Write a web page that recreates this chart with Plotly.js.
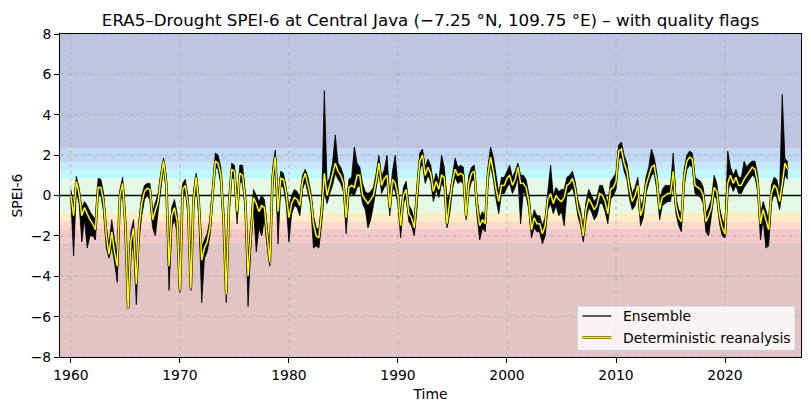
<!DOCTYPE html>
<html><head><meta charset="utf-8">
<script src="https://cdn.plot.ly/plotly-3.0.1.min.js"></script>
<style>html,body{margin:0;padding:0;background:#fff}#chart{width:811px;height:411px}</style>
</head><body><div id="chart"></div>
<script>
// Quarterly samples (Jan, Apr, Jul, Oct) from 1960 to 2025
const startYear = 1960;
const quarterMonths = ['01','04','07','10'];

// Deterministic reanalysis SPEI-6
const detValues = [
 0.0,-1.0,0.7,0.1,   -1.0,-0.6,-0.9,-1.2,  -1.4,-1.7,0.4,0.4,   -0.3,-2.0,-2.9,-1.8,
 -2.8,-3.5,0.0,0.6,  -1.5,-5.6,-2.3,-1.6,  -4.4,-1.6,-0.4,0.2,  0.35,0.3,-1.2,-0.8,
 -0.3,0.8,1.7,0.6,   -3.5,-1.0,-0.6,-1.3,  -4.7,0.3,0.5,-0.5,   -4.6,-0.2,0.9,-0.5,
 -3.2,-2.6,-2.3,-1.6, 0.0,1.7,1.6,1.0,     -1.1,-4.9,-0.5,1.3,  1.2,-0.8,1.1,1.0,
 -0.3,-4.0,-2.0,-0.1, -0.4,-0.8,-0.5,-0.6, -2.0,-3.3,0.9,1.9,   -0.8,0.85,0.8,0.1,
 -1.1,-0.4,-0.1,-0.2, -0.5,0.7,1.1,0.5,    -0.1,-1.4,-2.0,-2.1, -0.8,1.1,0.0,0.5,
 1.0,1.6,1.2,1.0,    0.6,-1.1,0.4,0.5,     0.4,1.0,1.0,0.0,     -0.2,-0.4,-0.2,0.0,
 0.7,1.6,0.5,0.85,   1.0,-0.6,0.8,0.6,     0.0,-1.5,0.0,0.3,    -0.9,-1.1,-1.6,-0.1,
 1.7,2.0,1.0,1.4,    1.1,0.2,0.7,0.3,      1.0,0.9,-1.4,-0.3,   0.7,1.3,1.0,1.1,
 1.0,-1.0,0.6,1.1,   1.2,-0.5,-1.5,-1.2,   -1.4,1.0,1.9,1.2,    0.3,-0.3,0.5,0.5,
 0.85,1.0,0.5,0.8,   1.4,0.6,0.6,0.4,      -0.3,-1.7,-1.1,-1.4, -1.4,-1.9,-1.5,-0.2,
 0.1,-0.4,0.0,-0.2,  -0.3,-0.1,0.5,0.6,    0.85,0.35,-0.6,-1.1, -2.0,-0.7,-0.15,-0.4,
 -0.7,-0.5,0.1,0.0,  -0.3,-0.9,0.3,0.4,    0.7,2.2,2.3,1.6,     1.2,0.3,-0.3,0.0,
 0.5,-1.0,-0.6,0.5,  1.0,1.4,1.5,0.7,      -0.7,-0.1,0.0,0.1,   0.1,1.2,-0.5,-1.1,
 -1.3,0.9,1.7,1.9,   1.8,0.5,0.4,0.3,      0.0,-1.3,-1.0,-0.6,  0.4,0.2,-1.0,-1.6,
 -1.9,0.6,1.0,0.6,   0.9,0.5,0.5,0.8,      1.0,1.2,1.4,1.3,     0.6,-1.4,-0.7,-1.2,
 -1.7,0.1,0.5,0.35,  -0.3,0.6,1.6,1.3
];

// Ensemble envelope: lowest member
const ensLow = [
 -0.3,-3.0,0.3,-0.4,  -2.3,-1.2,-2.6,-2.0, -2.0,-2.2,0.0,0.0,   -0.8,-2.6,-3.1,-2.5,
 -3.3,-4.3,-0.5,0.3,  -2.0,-5.6,-3.0,-2.2, -5.4,-2.2,-1.0,-0.2, 0.0,-0.2,-1.6,-2.0,
 -0.8,0.4,1.4,0.2,    -4.7,-1.6,-1.2,-1.9, -4.8,-0.1,0.2,-1.0,  -4.7,-0.6,0.5,-1.2,
 -5.3,-3.1,-2.8,-2.0, -0.4,1.4,1.3,0.6,    -1.6,-5.3,-1.0,0.9,  0.8,-1.4,0.7,0.6,
 -0.8,-5.5,-2.6,-0.6, -2.8,-1.6,-2.0,-1.2, -2.5,-3.5,0.4,1.5,   -2.4,0.5,0.4,-0.4,
 -2.3,-0.9,-0.5,-0.6, -1.0,0.3,0.7,0.1,    -0.5,-2.6,-2.5,-2.6, -1.4,0.2,-0.4,0.1,
 0.5,1.1,0.8,0.6,     0.2,-1.9,0.0,0.1,    0.0,0.4,0.5,-0.4,    -0.7,-1.6,-1.2,-0.5,
 0.3,1.2,0.1,0.4,     0.6,-1.0,0.4,0.2,    -0.4,-2.1,-0.4,-0.1, -1.3,-1.5,-2.0,-0.6,
 1.3,1.6,0.6,1.0,     0.7,-0.3,0.3,-0.1,   0.6,0.4,-1.6,-0.9,   0.3,0.9,0.6,0.7,
 0.6,-1.2,0.2,0.7,    0.8,-1.0,-2.2,-1.6,  -1.8,0.6,1.5,0.8,    -0.2,-0.9,0.1,0.1,
 0.4,0.6,0.1,0.4,     0.9,-1.4,0.2,0.0,    -0.7,-2.1,-1.6,-1.8, -1.8,-2.4,-2.0,-0.7,
 -0.4,-0.9,-0.5,-1.0, -0.8,-1.5,0.1,0.2,   0.4,-0.1,-1.0,-1.5,  -2.3,-1.2,-0.6,-0.8,
 -1.2,-1.0,-0.4,-0.4, -0.8,-1.4,-0.2,0.0,  0.3,1.8,1.9,1.2,     0.8,-0.2,-0.7,-0.5,
 0.1,-1.5,-1.1,0.1,   0.6,1.0,1.1,0.3,     -1.2,-0.5,-0.4,-0.3, -0.3,0.7,-0.9,-1.5,
 -1.8,0.5,1.3,1.5,    1.4,0.1,0.0,-0.1,    -0.4,-1.8,-2.0,-1.0, 0.0,-0.2,-1.4,-2.0,
 -2.1,0.2,0.6,0.2,    0.5,0.1,0.1,0.4,     0.6,0.8,1.0,0.9,     0.2,-2.2,-1.2,-2.6,
 -2.5,-0.4,0.1,-0.1,  -0.7,0.2,1.0,0.8
];

// Ensemble envelope: highest member
const ensHigh = [
 0.3,-0.6,0.95,0.4,   -0.6,-0.3,-0.5,-0.8, -1.0,-1.2,0.85,0.8,  0.1,-1.6,-2.5,-1.2,
 -2.2,-3.0,0.3,0.9,   -1.0,-5.0,-1.8,-1.2, -4.0,-1.2,0.0,0.5,   0.6,0.6,-0.8,-0.4,
 0.1,1.1,1.85,0.9,    -3.0,-0.6,-0.2,-0.9, -4.3,0.6,0.8,-0.1,   -4.2,0.2,1.1,-0.1,
 -2.6,-2.2,-1.9,-1.2, 0.4,2.1,2.0,1.4,     -0.7,-4.4,-0.2,1.6,  1.5,-0.4,1.5,1.5,
 0.1,-3.6,-1.5,0.3,   0.0,-0.3,0.0,-0.2,   -1.6,-2.9,1.3,2.25,  -0.3,1.2,1.1,0.4,
 -0.6,0.0,0.3,0.2,    -0.1,1.0,1.3,0.9,    0.2,-1.0,-1.6,-1.7,  -0.4,5.2,0.6,0.9,
 1.6,3.0,1.6,1.4,     1.0,-0.7,0.8,0.9,    2.4,1.6,1.4,0.6,     0.2,0.1,0.2,0.4,
 1.1,2.0,0.9,1.3,     2.0,-0.2,1.2,2.0,    0.4,-1.1,0.4,0.7,    -0.5,-0.7,-1.2,0.3,
 2.1,2.3,1.4,1.8,     1.5,0.6,1.1,0.7,     2.0,1.4,-0.2,0.1,    1.1,1.85,1.4,1.5,
 1.4,-0.6,1.0,1.4,    1.5,-0.1,-1.1,-0.8,  -1.0,1.4,2.4,1.9,    1.0,0.1,0.9,0.9,
 1.2,1.5,0.9,1.2,     1.6,1.0,1.0,0.8,     0.1,-1.3,-0.7,-1.0,  -1.0,-1.5,-1.1,0.2,
 1.5,0.0,0.4,0.2,     0.3,0.3,0.9,1.0,     1.2,0.7,-0.2,-0.7,   -1.6,-0.3,0.3,0.0,
 -0.3,-0.1,0.5,0.5,   0.1,-0.4,0.7,0.9,    1.1,2.5,2.65,2.0,    1.6,0.7,0.1,0.4,
 0.9,-0.6,-0.2,0.9,   1.4,2.3,1.9,1.1,     -0.3,0.3,0.5,0.5,    0.5,2.1,-0.1,-0.7,
 -0.9,1.3,2.0,2.2,    2.1,0.9,0.8,0.7,     0.4,-0.9,-0.6,-0.2,  1.0,0.6,-0.6,-1.2,
 -1.5,2.2,1.4,1.0,    1.3,0.9,0.9,1.7,     1.4,1.6,1.7,1.7,     1.0,-1.0,-0.3,-0.8,
 -1.2,0.5,0.9,0.8,    0.1,5.0,1.8,1.7
];

// SPEI category bands
const bandEdges = [-8, -2.33, -1.65, -1.28, -0.84, 0.84, 1.28, 1.65, 2.33, 8];
const bandColors = ['rgb(224,196,198)','rgb(245,200,201)','rgb(251,216,203)','rgb(253,238,198)',
                    'rgb(228,250,230)','rgb(191,250,255)','rgb(197,232,250)','rgb(192,216,244)','rgb(191,196,224)'];

const xTickYears = [1960, 1970, 1980, 1990, 2000, 2010, 2020];
const yTicks = [-8, -6, -4, -2, 0, 2, 4, 6, 8];
const seriesNames = ['Ensemble', 'Deterministic reanalysis'];

const dates = [];
for (let i = 0; i < detValues.length; i++) {
  const y = startYear + Math.floor(i / 4);
  dates.push(y + '-' + quarterMonths[i % 4] + '-01');
}

const FONT = 'DejaVu Sans, Verdana, sans-serif';
const shapes = [];
for (let i = 0; i < bandColors.length; i++) {
  shapes.push({type:'rect', xref:'paper', yref:'y', x0:0, x1:1, y0:bandEdges[i], y1:bandEdges[i+1],
    fillcolor:bandColors[i], line:{width:0}, layer:'below'});
}
xTickYears.forEach(yr => shapes.push({type:'line', xref:'x', yref:'paper', x0:yr+'-01-01', x1:yr+'-01-01', y0:0, y1:1,
  line:{color:'#b0b0b0', width:0.8, dash:'4px,3px'}, layer:'below'}));
yTicks.forEach(v => shapes.push({type:'line', xref:'paper', yref:'y', x0:0, x1:1, y0:v, y1:v,
  line:{color:'#b0b0b0', width:0.8, dash:'4px,3px'}, layer:'below'}));
shapes.push({type:'line', xref:'paper', yref:'y', x0:0, x1:1, y0:0, y1:0, line:{color:'black', width:1.5}, layer:'below'});

// manual legend (bottom right)
shapes.push({type:'rect', xref:'paper', yref:'paper', x0:0.698, x1:0.992, y0:0.02, y1:0.158,
  fillcolor:'rgba(255,255,255,0.8)', line:{color:'#cccccc', width:1}, layer:'above'});
shapes.push({type:'line', xref:'paper', yref:'paper', x0:0.705, x1:0.744, y0:0.127, y1:0.127,
  line:{color:'black', width:1.3}, layer:'above'});
shapes.push({type:'line', xref:'paper', yref:'paper', x0:0.705, x1:0.744, y0:0.060, y1:0.060,
  line:{color:'#555500', width:2.8}, layer:'above'});
shapes.push({type:'line', xref:'paper', yref:'paper', x0:0.705, x1:0.744, y0:0.060, y1:0.060,
  line:{color:'#ffff00', width:1.4}, layer:'above'});

const annotations = [
  {xref:'paper', yref:'paper', x:0.757, y:0.127, xanchor:'left', yanchor:'middle', showarrow:false,
   text:seriesNames[0], font:{family:FONT, size:13.9, color:'black'}},
  {xref:'paper', yref:'paper', x:0.757, y:0.060, xanchor:'left', yanchor:'middle', showarrow:false,
   text:seriesNames[1], font:{family:FONT, size:13.9, color:'black'}}
];

const traces = [
  {x:dates, y:ensLow, type:'scatter', mode:'lines', line:{color:'black', width:0.8}, showlegend:false, hoverinfo:'skip', name:'Ensemble low'},
  {x:dates, y:ensHigh, type:'scatter', mode:'lines', fill:'tonexty', fillcolor:'black', line:{color:'black', width:0.8}, showlegend:false, name:seriesNames[0]},
  {x:dates, y:detValues, type:'scatter', mode:'lines', line:{color:'#222200', width:2.6}, showlegend:false, hoverinfo:'skip', name:'outline'},
  {x:dates, y:detValues, type:'scatter', mode:'lines', line:{color:'#ffff00', width:1.4}, showlegend:false, name:seriesNames[1]}
];

const layout = {
  width:811, height:411,
  margin:{l:60, r:10, t:34, b:54},
  paper_bgcolor:'white', plot_bgcolor:'white',
  font:{family:FONT, size:13.9, color:'black'},
  title:{text:'ERA5–Drought SPEI-6 at Central Java (−7.25 °N, 109.75 °E) – with quality flags',
    font:{family:FONT, size:16.7, color:'black'}, x:0.5, xref:'paper', xanchor:'center', y:0.951, yref:'container', yanchor:'middle'},
  xaxis:{type:'date', range:['1959-01-01','2026-12-20'], tickvals:xTickYears.map(y=>y+'-01-01'), ticktext:xTickYears.map(String),
    showgrid:false, zeroline:false, showline:true, mirror:true, linecolor:'black', linewidth:1,
    ticks:'outside', ticklen:5, tickwidth:1, tickcolor:'black', tickfont:{size:13.9},
    title:{text:'Time', font:{size:13.9}, standoff:7}},
  yaxis:{range:[-8,8], tickvals:yTicks, ticktext:yTicks.map(v => v<0 ? '\u2212'+Math.abs(v) : String(v)),
    showgrid:false, zeroline:false, showline:true, mirror:true, linecolor:'black', linewidth:1,
    ticks:'outside', ticklen:5, tickwidth:1, tickcolor:'black', tickfont:{size:13.9},
    title:{text:'SPEI-6', font:{size:13.9}, standoff:4}},
  shapes:shapes, annotations:annotations, showlegend:false
};

Plotly.newPlot('chart', traces, layout, {displayModeBar:false, staticPlot:true});
</script></body></html>
